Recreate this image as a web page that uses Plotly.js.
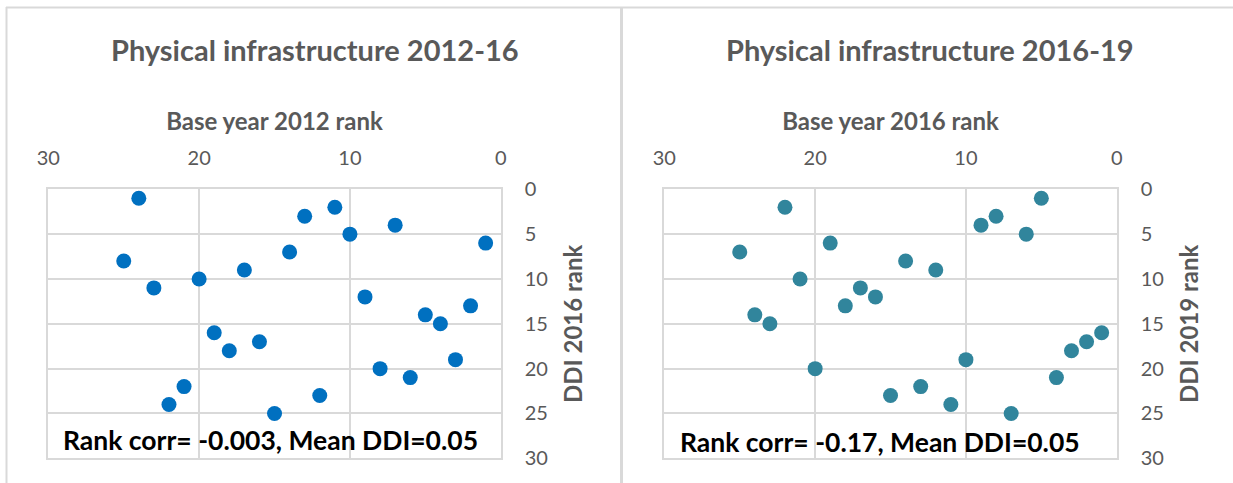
<!DOCTYPE html>
<html>
<head>
<meta charset="utf-8">
<script src="https://cdn.plot.ly/plotly-3.0.1.min.js"></script>
<style>html,body{margin:0;padding:0;background:#fff;}#chart{width:1233px;height:483px;}</style>
</head>
<body>
<div id="chart"></div>
<script>
// Panel 1: Physical infrastructure 2012-16
const base2012Rank = [24, 11, 13, 7, 10, 1, 14, 25, 17, 20, 23, 9, 2, 5, 4, 19, 16, 18, 3, 8, 6, 21, 12, 22, 15];
const ddi2016Rank  = [1, 2, 3, 4, 5, 6, 7, 8, 9, 10, 11, 12, 13, 14, 15, 16, 17, 18, 19, 20, 21, 22, 23, 24, 25];
// Panel 2: Physical infrastructure 2016-19
const base2016Rank = [5, 22, 8, 9, 6, 19, 25, 14, 12, 21, 17, 16, 18, 24, 23, 1, 2, 3, 10, 20, 4, 13, 15, 11, 7];
const ddi2019Rank  = [1, 2, 3, 4, 5, 6, 7, 8, 9, 10, 11, 12, 13, 14, 15, 16, 17, 18, 19, 20, 21, 22, 23, 24, 25];

const titles = ["Physical infrastructure 2012-16", "Physical infrastructure 2016-19"];
const xTitles = ["Base year 2012 rank", "Base year 2016 rank"];
const yTitles = ["DDI 2016 rank", "DDI 2019 rank"];
const notes = ["Rank corr= -0.003, Mean DDI=0.05", "Rank corr= -0.17, Mean DDI=0.05"];
const tickVals = [0, 5, 10, 15, 20, 25, 30];

const FONT = "Lato, 'Open Sans', sans-serif";
const GREY = "#595959";
const GRID = "#D9D9D9";

const traces = [
  {x: base2012Rank, y: ddi2016Rank, type: "scatter", mode: "markers", xaxis: "x", yaxis: "y",
   marker: {color: "#0070C0", size: 15}, hoverinfo: "x+y"},
  {x: base2016Rank, y: ddi2019Rank, type: "scatter", mode: "markers", xaxis: "x2", yaxis: "y2",
   marker: {color: "#31859C", size: 15}, hoverinfo: "x+y"}
];

function xa(domain, anchor, i) {
  return {domain: domain, anchor: anchor, side: "top", range: [30, 0], dtick: 10, tick0: 0,
    showgrid: true, gridcolor: GRID, gridwidth: 2, zeroline: false,
    showline: true, linecolor: GRID, linewidth: 2, mirror: true, ticks: "", ticklabelstandoff: 14,
    tickfont: {family: FONT, size: 20, color: GREY},
    title: {text: "<b>" + xTitles[i] + "</b>", font: {family: FONT, size: 24, color: GREY}, standoff: 8}};
}
function ya(anchor, i) {
  return {domain: [0.0511, 0.6081], anchor: anchor, side: "right", range: [30, 0],
    tickvals: tickVals, showgrid: true, gridcolor: GRID, gridwidth: 2, zeroline: false,
    showline: true, linecolor: GRID, linewidth: 2, mirror: true, ticks: "", ticklabelstandoff: 18,
    tickfont: {family: FONT, size: 20, color: GREY},
    title: {text: "<b>" + yTitles[i] + "</b>", font: {family: FONT, size: 24, color: GREY}, standoff: 18}};
}

const shapes = [
  {type: "line", xref: "paper", yref: "paper", x0: 6/1233, x1: 1, y0: 1 - 7.5/483, y1: 1 - 7.5/483, line: {color: GRID, width: 2}},
  {type: "line", xref: "paper", yref: "paper", x0: 6.5/1233, x1: 6.5/1233, y0: 0, y1: 1 - 7/483, line: {color: GRID, width: 2}},
  {type: "line", xref: "paper", yref: "paper", x0: 621.5/1233, x1: 621.5/1233, y0: 0, y1: 1 - 7/483, line: {color: GRID, width: 3}}
];

const annotations = [
  {xref: "paper", yref: "paper", x: 315/1233, y: 1 - 49/483, text: "<b>" + titles[0] + "</b>", showarrow: false,
   font: {family: FONT, size: 29, color: GREY}, xanchor: "center", yanchor: "middle"},
  {xref: "paper", yref: "paper", x: 930/1233, y: 1 - 49/483, text: "<b>" + titles[1] + "</b>", showarrow: false,
   font: {family: FONT, size: 29, color: GREY}, xanchor: "center", yanchor: "middle"},
  {xref: "x", yref: "y", x: 15.3, y: 28, text: "<b>" + notes[0] + "</b>", showarrow: false,
   font: {family: FONT, size: 26.5, color: "#000000"}, xanchor: "center", yanchor: "middle"},
  {xref: "x2", yref: "y2", x: 15.7, y: 28.2, text: "<b>" + notes[1] + "</b>", showarrow: false,
   font: {family: FONT, size: 26.5, color: "#000000"}, xanchor: "center", yanchor: "middle"}
];

const layout = {
  width: 1233, height: 483, margin: {l: 0, r: 0, t: 0, b: 0},
  paper_bgcolor: "#ffffff", plot_bgcolor: "#ffffff", showlegend: false,
  font: {family: FONT, color: GREY},
  xaxis: xa([0.0392, 0.4061], "y", 0),
  yaxis: ya("x", 0),
  xaxis2: xa([0.5388, 0.9057], "y2", 1),
  yaxis2: ya("x2", 1),
  shapes: shapes, annotations: annotations
};

Plotly.newPlot("chart", traces, layout, {displayModeBar: false, staticPlot: true});
</script>
</body>
</html>
